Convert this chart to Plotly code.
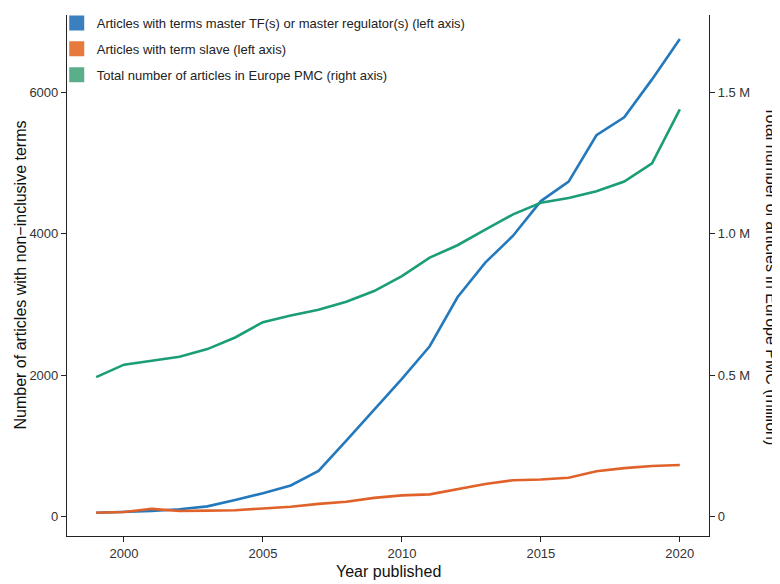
import plotly.graph_objects as go

years = list(range(1999, 2021))
master_tf = [55, 65, 80, 105, 145, 235, 330, 440, 645, 1075, 1510, 1946, 2408, 3100, 3590, 3970, 4460, 4735, 5390, 5645, 6180, 6750]
slave = [55, 65, 110, 80, 85, 90, 115, 140, 180, 210, 265, 300, 315, 390, 460, 515, 525, 550, 640, 685, 715, 730]
total_pmc_m = [0.493, 0.537, 0.551, 0.565, 0.592, 0.633, 0.687, 0.711, 0.731, 0.759, 0.797, 0.850, 0.915, 0.959, 1.014, 1.068, 1.109, 1.126, 1.150, 1.184, 1.248, 1.439]

left_ticks = [0, 2000, 4000, 6000]
right_ticks = [0, 0.5, 1.0, 1.5]
right_ticktext = ["0", "0.5 M", "1.0 M", "1.5 M"]
x_ticks = [2000, 2005, 2010, 2015, 2020]

names = ["Articles with terms master TF(s) or master regulator(s) (left axis)",
         "Articles with term slave (left axis)",
         "Total number of articles in Europe PMC (right axis)"]
c_blue, c_orange, c_green = "#2479BD", "#E0622A", "#1B9E77"
key_colors = ["#3A7FC0", "#E57A3C", "#5BAE8A"]

FONT = "Liberation Sans, Arial, Helvetica, sans-serif"

fig = go.Figure()
fig.add_trace(go.Scatter(x=years, y=master_tf, mode="lines", line=dict(color=c_blue, width=2.6), showlegend=False))
fig.add_trace(go.Scatter(x=years, y=slave, mode="lines", line=dict(color=c_orange, width=2.6), showlegend=False))
fig.add_trace(go.Scatter(x=years, y=total_pmc_m, mode="lines", line=dict(color=c_green, width=2.6), yaxis="y2", showlegend=False))

for i, (n, c) in enumerate(zip(names, key_colors)):
    fig.add_trace(go.Scatter(x=[None], y=[None], mode="markers", name=n, legendgroup=f"g{i}",
                             marker=dict(symbol="square", size=15, color=c)))

lo, hi = -274, 7090
fac = 250 / 1e6

axis_common = dict(ticks="outside", ticklen=5, tickwidth=1.2, tickcolor="#222", showline=True,
                   linecolor="#222", linewidth=1.2, showgrid=False, zeroline=False,
                   tickfont=dict(size=13, color="#333"))

fig.update_layout(
    width=780, height=584,
    margin=dict(l=59, r=79, t=0, b=56),
    plot_bgcolor="white", paper_bgcolor="white",
    font=dict(family=FONT, size=13, color="#222"),
    xaxis=dict(range=[1997.95, 2021.05], tickvals=x_ticks, **axis_common),
    yaxis=dict(range=[lo, hi], tickvals=left_ticks, **axis_common),
    yaxis2=dict(range=[lo * fac, hi * fac], overlaying="y", side="right", tickvals=right_ticks,
                ticktext=right_ticktext, **axis_common),
    legend=dict(x=-0.016, y=1.014, xanchor="left", yanchor="top", bgcolor="rgba(0,0,0,0)",
                font=dict(size=13, color="#222"), tracegroupgap=6, itemwidth=30),
    showlegend=True,
)

fig.add_annotation(text="Year published", xref="paper", yref="paper", x=0.5, y=0, yshift=-25,
                   xanchor="center", yanchor="top", showarrow=False, font=dict(size=16, color="#111"))
fig.add_annotation(text="Number of articles with non\u2212inclusive terms", xref="paper", yref="paper",
                   x=0, xshift=-47, y=0.5, textangle=-90, xanchor="center", yanchor="middle",
                   showarrow=False, font=dict(size=16, color="#111"))
fig.add_annotation(text="Total number of articles in Europe PMC (million)", xref="paper", yref="paper",
                   x=1, xshift=62, y=0.5, textangle=90, xanchor="center", yanchor="middle",
                   showarrow=False, font=dict(size=16, color="#111"))

fig.write_html("out.html")
